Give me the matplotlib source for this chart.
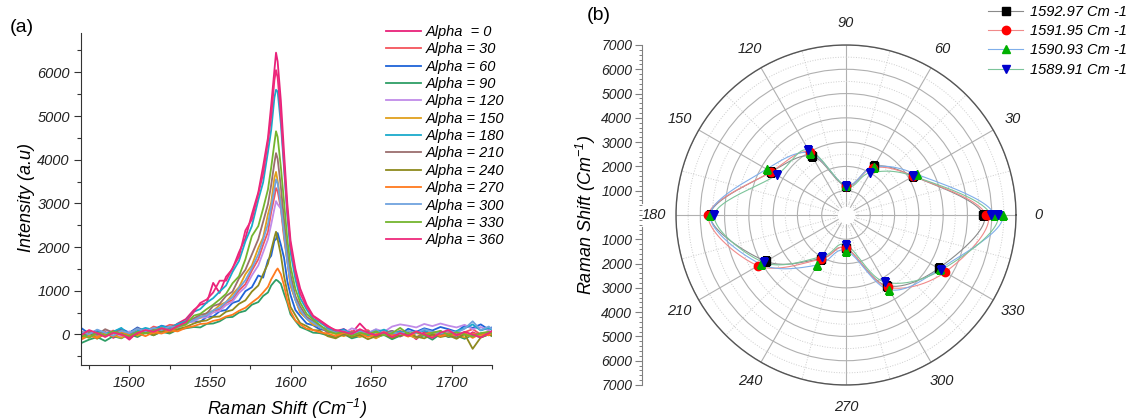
import numpy as np
import matplotlib
matplotlib.use('Agg')
import matplotlib.pyplot as plt
from matplotlib.lines import Line2D
from matplotlib.ticker import FixedLocator, MultipleLocator

plt.rcParams['font.family'] = ['Liberation Sans', 'DejaVu Sans']
plt.rcParams['font.style'] = 'italic'
plt.rcParams['mathtext.fontset'] = 'custom'
plt.rcParams['mathtext.rm'] = 'Liberation Sans:italic'
plt.rcParams['mathtext.it'] = 'Liberation Sans:italic'

# ---- panel (a): Raman spectra ----
shift_left = [1470, 1475, 1480, 1485, 1490, 1495, 1500, 1505, 1510, 1515, 1520, 1525, 1530, 1535]
shift_peak = [1540, 1544, 1548, 1552, 1556, 1560, 1564, 1568, 1572, 1576, 1580, 1583, 1586,
              1588, 1590, 1591, 1592, 1594, 1596, 1598, 1600, 1603, 1606, 1610, 1614, 1618]
shift_right = [1623, 1628, 1633, 1638, 1643, 1648, 1653, 1658, 1663, 1668, 1673, 1678, 1683,
               1688, 1693, 1698, 1703, 1708, 1713, 1718, 1723, 1725]
raman_shift = shift_left + shift_peak + shift_right

i_000 = [-60, 40, -30, 60, -80, 20, -120, 50, 80, 40, 150, 120, 250, 350,
         560, 680, 720, 1180, 950, 1320, 1500, 1880, 2200, 2750, 3250, 3850, 4500, 5250, 6050, 6450,
         6250, 5350, 4150, 3000, 2150, 1500, 1050, 680, 430, 330,
         200, 80, 120, 30, 250, 60, -40, 90, 20, -50, 40, -110, 60, -20, 80, -60, 30, -90, 50, -30, 40, 60]
i_030 = [80, -40, 60, 0, 90, -20, 40, 120, 60, 180, 130, 220, 200, 300,
         330, 410, 400, 540, 570, 720, 790, 1010, 1150, 1460, 1720, 2050, 2350, 2800, 3150, 3350,
         3280, 2880, 2200, 1680, 1120, 800, 500, 380, 230, 180,
         120, 60, -20, 80, 10, 100, -40, 60, 0, 90, -30, 40, 100, -60, 30, 70, -20, 50, 120, 0, 60, 40]
i_060 = [150, 20, 90, -30, 60, 130, 40, 160, 70, 110, 200, 150, 230, 280,
         300, 290, 400, 410, 530, 560, 720, 770, 990, 1080, 1350, 1300, 1700, 1800, 2150, 2180,
         2320, 2050, 1750, 1220, 900, 560, 420, 250, 210, 120,
         90, 40, 120, -10, 60, 20, 110, 30, 80, 0, 130, 60, 140, 90, 170, 120, 60, 200, 150, 230, 110, 160]
i_090 = [-200, -120, -60, -150, -40, -90, 10, -60, 40, -20, 60, 20, 110, 140,
         170, 160, 240, 250, 300, 390, 400, 500, 540, 680, 740, 880, 960, 1120, 1210, 1250,
         1230, 1160, 930, 720, 460, 310, 170, 110, 40, 30,
         -20, -60, 10, -90, -40, 20, -70, -10, -110, -30, 0, -80, -20, -120, 10, -60, -30, -100, -10, -70, 0, -40]
i_120 = [-40, 60, -20, 100, 30, -60, 70, 20, 120, 60, 170, 110, 200, 260,
         300, 380, 390, 500, 540, 670, 750, 950, 1080, 1350, 1580, 1880, 2180, 2520, 2880, 3050,
         2980, 2880, 2380, 1820, 1230, 840, 540, 400, 240, 200,
         60, 100, 20, 140, 80, 30, 120, 60, 180, 230, 200, 160, 240, 190, 250, 200, 160, 220, 120, 170, 90, 140]
i_150 = [-100, 20, -60, 50, -20, -80, 30, -30, 60, 10, 110, 50, 160, 220,
         360, 380, 490, 540, 670, 740, 920, 1080, 1380, 1580, 1980, 2220, 2750, 3020, 3580, 3720,
         3520, 3020, 2280, 1680, 1130, 800, 500, 360, 220, 180,
         60, 10, -40, 30, -60, 0, -90, 20, -50, 40, -20, -80, 10, -60, 30, -40, 0, -70, 20, -30, 10, -20]
i_180 = [40, -50, 100, 20, 60, 150, -20, 80, 150, 100, 190, 140, 240, 300,
         520, 580, 730, 830, 980, 1120, 1430, 1680, 2130, 2480, 3080, 3480, 4180, 4680, 5420, 5600,
         5560, 4820, 3780, 2720, 1880, 1270, 830, 570, 360, 280,
         150, 60, 100, 20, 80, -30, 50, 110, 20, 70, -40, 30, 90, 10, 60, -20, 80, 140, 230, 90, 150, 100]
i_210 = [20, 80, -10, 120, 40, 90, 10, 140, 60, 120, 80, 170, 190, 250,
         370, 450, 480, 650, 700, 880, 980, 1280, 1480, 1830, 2180, 2580, 2980, 3420, 3930, 4150,
         4020, 3380, 2620, 1880, 1370, 880, 640, 400, 300, 190,
         40, 90, -20, 50, 0, 70, -50, 30, 80, -10, 40, -60, 20, 60, -30, 30, -80, 10, -40, 20, -20, 30]
i_240 = [-50, 30, -100, 20, -40, 40, -70, 10, 60, -20, 80, 40, 120, 170,
         250, 300, 320, 400, 410, 520, 560, 700, 780, 980, 1120, 1380, 1620, 1930, 2220, 2350,
         2180, 1820, 1330, 970, 630, 440, 260, 190, 100, 90,
         -40, -90, 10, -60, -10, -110, -40, 0, -80, -20, 20, -50, -90, 0, -60, -20, -100, 10, -330, -70, 0, -30]
i_270 = [-120, -30, -80, 20, -50, 60, -20, 30, -40, 50, 20, 90, 70, 150,
         190, 240, 250, 310, 340, 410, 450, 540, 610, 730, 840, 960, 1090, 1260, 1390, 1460,
         1510, 1380, 1120, 770, 530, 320, 230, 130, 100, 50,
         20, -40, 40, -20, 30, -60, 10, 50, -30, 20, -50, 30, -10, 60, -40, 10, -20, 40, -80, 20, -20, 40]
i_300 = [60, 0, 110, 40, -30, 80, 30, 130, 70, 150, 100, 180, 160, 240,
         330, 400, 440, 550, 610, 740, 850, 1060, 1240, 1520, 1830, 2170, 2530, 2920, 3330, 3550,
         3460, 2940, 2310, 1690, 1210, 790, 560, 360, 270, 170,
         100, 40, 80, 0, 60, 20, 100, -20, 50, 10, 80, 30, 120, 60, 20, 90, 40, 130, 300, 100, 180, 120]
i_330 = [0, -80, 40, -30, 70, 10, -40, 60, 20, 90, 140, 90, 180, 230,
         430, 470, 580, 680, 800, 930, 1170, 1330, 1720, 2250, 2480, 2880, 3320, 3820, 4380, 4650,
         4520, 3830, 3020, 2180, 1560, 1040, 730, 470, 340, 220,
         80, 20, 60, -30, 40, 0, 70, -20, 30, 150, 10, 60, -30, 40, 80, -10, 50, 0, -50, 30, 60, 20]
i_360 = [-20, 100, 30, -60, 40, 0, -80, 30, 100, 60, 140, 90, 190, 280,
         520, 720, 800, 960, 1230, 1230, 1520, 1780, 2380, 2630, 3220, 3680, 4420, 4980, 5820, 6050,
         5880, 5020, 3880, 2820, 2030, 1420, 940, 630, 410, 310,
         180, 100, 60, 10, 120, 40, -20, 50, -60, 30, -30, 70, 0, -80, 40, 100, -20, 60, 0, -70, 30, 80]

spectra = [i_000, i_030, i_060, i_090, i_120, i_150, i_180, i_210, i_240, i_270, i_300, i_330, i_360]
spec_labels = ['Alpha  = 0', 'Alpha = 30', 'Alpha = 60', 'Alpha = 90', 'Alpha = 120', 'Alpha = 150',
               'Alpha = 180', 'Alpha = 210', 'Alpha = 240', 'Alpha = 270', 'Alpha = 300',
               'Alpha = 330', 'Alpha = 360']
spec_colors = ['#E8217A', '#F4545C', '#1F63D8', '#2E9E66', '#C08BE8', '#E0A01C', '#1AAACB',
               '#9B6E6E', '#8E8A1E', '#FF7A1E', '#6FA3DE', '#74B52E', '#EE2A7B']

# ---- panel (b): polar plot of peak intensity ----
alpha_deg = [0, 30, 60, 90, 120, 150, 180, 210, 240, 270, 300, 330, 360]
r_159297 = [5650, 3200, 2320, 1200, 2800, 3550, 5600, 3810, 2070, 1370, 3360, 4400, 5700]
r_159195 = [5760, 3200, 2250, 1200, 3000, 3560, 5670, 4180, 2100, 1370, 3430, 4710, 5850]
r_159093 = [6100, 3360, 2280, 1220, 2950, 3775, 5600, 4050, 2385, 1470, 3550, 4450, 6450]
r_158991 = [5950, 3200, 2010, 1180, 3100, 3300, 5420, 3910, 1975, 1235, 3180, 4530, 6250]
polar_series = [r_159297, r_159195, r_159093, r_158991]
polar_labels = ['1592.97 Cm -1', '1591.95 Cm -1', '1590.93 Cm -1', '1589.91 Cm -1']
marker_styles = ['s', 'o', '^', 'v']
marker_colors = ['#000000', '#FF0000', '#00B000', '#0000CC']
line_colors = ['#8A8A8A', '#F08A8A', '#7FAEEA', '#7CC49A']


def smooth_polar(theta_deg, r, n=24):
    """Catmull-Rom curve through the points (in x/y), returned as theta, r."""
    th = np.deg2rad(theta_deg)
    P = np.column_stack([np.array(r) * np.cos(th), np.array(r) * np.sin(th)])
    m = len(P)
    pts = []
    t = np.linspace(0, 1, n, endpoint=False)[:, None]
    for i in range(m - 1):
        p0 = P[i - 1] if i > 0 else P[m - 2]
        p1, p2 = P[i], P[i + 1]
        p3 = P[i + 2] if i + 2 < m else P[1]
        seg = 0.5 * (2 * p1 + (-p0 + p2) * t + (2 * p0 - 5 * p1 + 4 * p2 - p3) * t ** 2
                     + (-p0 + 3 * p1 - 3 * p2 + p3) * t ** 3)
        pts.append(seg)
    pts.append(P[-1][None, :])
    pts = np.vstack(pts)
    return np.unwrap(np.arctan2(pts[:, 1], pts[:, 0])), np.hypot(pts[:, 0], pts[:, 1])


fig = plt.figure(figsize=(11.31, 4.2), dpi=100)
W, H = 1131, 420

# panel (a)
ax = fig.add_axes([81 / W, 1 - 365 / H, (492 - 81) / W, (365 - 33) / H])
for y, lab, c in zip(spectra, spec_labels, spec_colors):
    ax.plot(raman_shift, y, color=c, lw=1.3, label=lab)
ax.set_xlim(1470, 1725)
ax.set_ylim(-700, 6900)
ax.xaxis.set_major_locator(MultipleLocator(50))
ax.xaxis.set_minor_locator(MultipleLocator(25))
ax.yaxis.set_major_locator(FixedLocator([0, 1000, 2000, 3000, 4000, 5000, 6000]))
ax.yaxis.set_minor_locator(MultipleLocator(500))
for s in ['top', 'right']:
    ax.spines[s].set_visible(False)
for s in ['left', 'bottom']:
    ax.spines[s].set_color('#333333')
ax.tick_params(which='major', direction='out', length=5, width=0.8, color='#333333',
               labelsize=10.5, labelcolor='#222222', pad=3)
ax.tick_params(which='minor', direction='out', length=3, width=0.8, color='#333333')
ax.legend(loc='upper left', bbox_to_anchor=(386 / W, 1 - 25 / H), bbox_transform=fig.transFigure,
          frameon=False, fontsize=10.5, handlelength=2.4, handletextpad=0.35, labelspacing=0.23,
          borderpad=0, borderaxespad=0)
fig.text(27 / W, 1 - 198 / H, 'Intensity (a.u)', rotation=90, ha='center', va='center', fontsize=13)
fig.text(287 / W, 1 - 409 / H, 'Raman Shift (Cm$^{-1}$)', ha='center', va='center', fontsize=13)
fig.text(22 / W, 1 - 27 / H, '(a)', ha='center', va='center', fontsize=14, style='normal')

# panel (b)
cx, cy, R = 846, 215, 170
pax = fig.add_axes([(cx - R) / W, 1 - (cy + R) / H, 2 * R / W, 2 * R / H], projection='polar')
pax.set_ylim(0, 7000)
pax.set_axisbelow(True)
pax.set_thetagrids(alpha_deg[:-1], [str(a) for a in alpha_deg[:-1]])
pax.xaxis.set_minor_locator(FixedLocator(np.deg2rad(np.arange(15, 360, 30))))
pax.yaxis.set_major_locator(FixedLocator([1000, 2000, 3000, 4000, 5000, 6000, 7000]))
pax.yaxis.set_minor_locator(FixedLocator([500, 1500, 2500, 3500, 4500, 5500, 6500]))
pax.set_yticklabels([])
pax.grid(which='major', color='#B0B0B0', lw=0.8, ls='-')
pax.grid(which='minor', color='#CDCDCD', lw=0.7, ls=':')
pax.tick_params(axis='x', which='both', length=0, pad=9, labelsize=10.5, labelcolor='#222222')
pax.tick_params(axis='y', which='both', length=0)
pax.spines['polar'].set_color('#555555')
pax.spines['polar'].set_linewidth(1.0)
ring = np.linspace(0, 2 * np.pi, 200)
pax.fill_between(ring, 0, 330, color='white', zorder=1)

handles = []
for r, m, mc, lc, lab in zip(polar_series, marker_styles, marker_colors, line_colors, polar_labels):
    th_s, r_s = smooth_polar(alpha_deg, r)
    pax.plot(th_s, r_s, color=lc, lw=0.8, zorder=2)
    pax.plot(np.deg2rad(alpha_deg), r, ls='none', marker=m, ms=6, mfc=mc, mec=mc, zorder=3)
    handles.append(Line2D([], [], color=lc, lw=0.8, marker=m, ms=6, mfc=mc, mec=mc, label=lab))
fig.legend(handles=handles, loc='upper left', bbox_to_anchor=(988 / W, 1 - 5 / H),
           frameon=False, fontsize=10.5, handlelength=2.4, handletextpad=0.45, labelspacing=0.36,
           borderpad=0, borderaxespad=0)

# radial scale drawn on the left, upper and lower halves
for lo, inverted in [(cy - R, False), (cy, True)]:
    rax = fig.add_axes([642 / W, 1 - (lo + R) / H, 0.001, R / H])
    rax.patch.set_visible(False)
    if inverted:
        rax.set_ylim(7000, 0)
    else:
        rax.set_ylim(0, 7000)
    for s in ['top', 'right', 'bottom']:
        rax.spines[s].set_visible(False)
    rax.spines['left'].set_bounds(500, 7000)
    rax.spines['left'].set_color('#808080')
    rax.set_xticks([])
    rax.yaxis.set_major_locator(FixedLocator([1000, 2000, 3000, 4000, 5000, 6000, 7000]))
    rax.yaxis.set_minor_locator(MultipleLocator(200))
    rax.tick_params(which='major', direction='out', length=5, width=0.8, color='#808080',
                    labelsize=10, labelcolor='#222222', pad=2)
    rax.tick_params(which='minor', direction='out', length=2.5, width=0.7, color='#808080')

fig.text(586 / W, 1 - 215 / H, 'Raman Shift (Cm$^{-1}$)', rotation=90, ha='center', va='center',
         fontsize=13)
fig.text(599 / W, 1 - 16 / H, '(b)', ha='center', va='center', fontsize=14, style='normal')

fig.savefig('out.png', dpi=100)
